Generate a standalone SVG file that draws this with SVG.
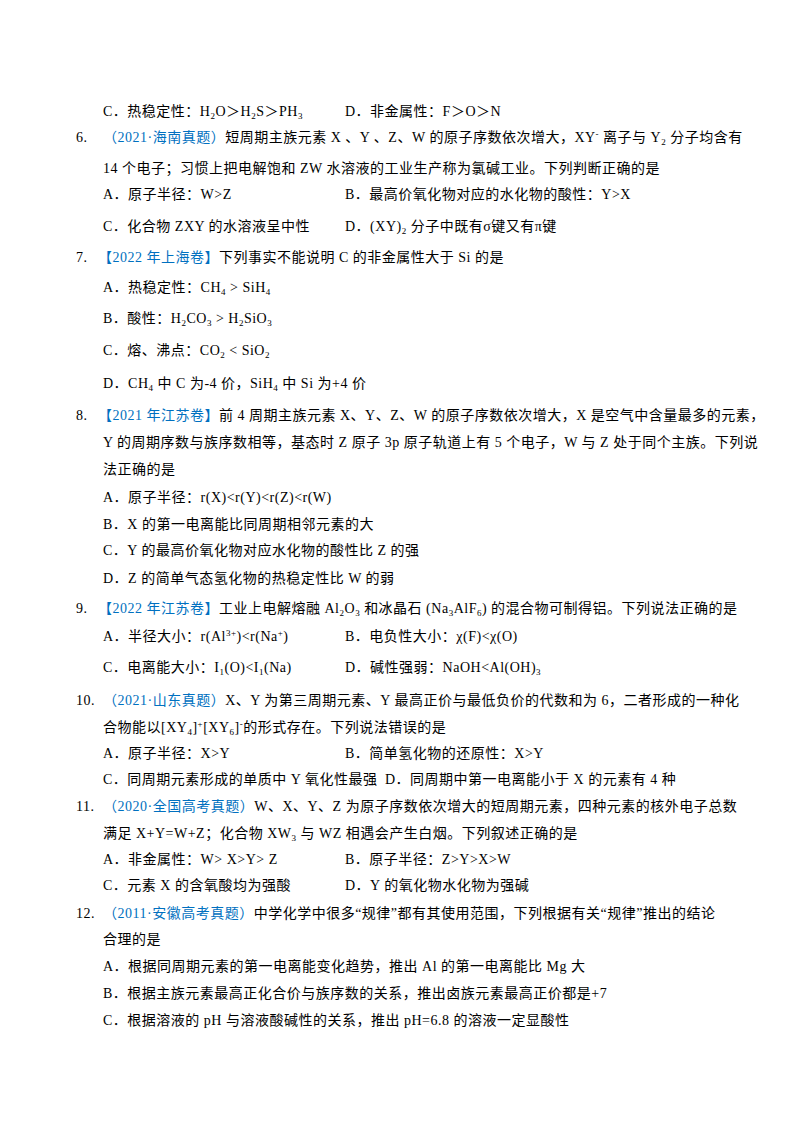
<svg xmlns="http://www.w3.org/2000/svg" width="800" height="1132" viewBox="0 0 800 1132">
<style>
text{font-family:"Liberation Serif","Noto Sans CJK SC",serif;font-size:14px;fill:#000;letter-spacing:0.5px}
.b{fill:#0070c0}
.s{font-size:9px}
</style>
<rect width="800" height="1132" fill="#fff"/>
<g id="q5">
<text x="103" y="116">C．热稳定性：H<tspan class="s" dy="3">2</tspan><tspan dy="-3">O＞H</tspan><tspan class="s" dy="3">2</tspan><tspan dy="-3">S＞PH</tspan><tspan class="s" dy="3">3</tspan></text>
<text x="345" y="116">D．非金属性：F＞O＞N</text>
</g>
<g id="q6">
<text x="76" y="142">6.</text>
<text x="103" y="142"><tspan class="b">（2021·海南真题）</tspan>短周期主族元素 X 、Y 、Z、W 的原子序数依次增大，XY<tspan class="s" dy="-5">-</tspan><tspan dy="5"> 离子与 Y</tspan><tspan class="s" dy="3">2</tspan><tspan dy="-3"> 分子均含有</tspan></text>
<text x="103" y="173">14 个电子；习惯上把电解饱和 ZW 水溶液的工业生产称为氯碱工业。下列判断正确的是</text>
<text x="103" y="199">A．原子半径：W&gt;Z</text>
<text x="345" y="199">B．最高价氧化物对应的水化物的酸性：Y&gt;X</text>
<text x="103" y="231">C．化合物 ZXY 的水溶液呈中性</text>
<text x="345" y="231">D．(XY)<tspan class="s" dy="3">2</tspan><tspan dy="-3"> 分子中既有σ键又有π键</tspan></text>
</g>
<g id="q7">
<text x="76" y="262">7.</text>
<text x="98" y="262"><tspan class="b">【2022 年上海卷】</tspan>下列事实不能说明 C 的非金属性大于 Si 的是</text>
<text x="103" y="292">A．热稳定性：CH<tspan class="s" dy="3">4</tspan><tspan dy="-3"> &gt; SiH</tspan><tspan class="s" dy="3">4</tspan></text>
<text x="103" y="323">B．酸性：H<tspan class="s" dy="3">2</tspan><tspan dy="-3">CO</tspan><tspan class="s" dy="3">3</tspan><tspan dy="-3"> &gt; H</tspan><tspan class="s" dy="3">2</tspan><tspan dy="-3">SiO</tspan><tspan class="s" dy="3">3</tspan></text>
<text x="103" y="355">C．熔、沸点：CO<tspan class="s" dy="3">2</tspan><tspan dy="-3"> &lt; SiO</tspan><tspan class="s" dy="3">2</tspan></text>
<text x="103" y="388">D．CH<tspan class="s" dy="3">4</tspan><tspan dy="-3"> 中 C 为-4 价，SiH</tspan><tspan class="s" dy="3">4</tspan><tspan dy="-3"> 中 Si 为+4 价</tspan></text>
</g>
<g id="q8">
<text x="76" y="420">8.</text>
<text x="98" y="420"><tspan class="b">【2021 年江苏卷】</tspan>前 4 周期主族元素 X、Y、Z、W 的原子序数依次增大，X 是空气中含量最多的元素，</text>
<text x="103" y="447">Y 的周期序数与族序数相等，基态时 Z 原子 3p 原子轨道上有 5 个电子，W 与 Z 处于同个主族。下列说</text>
<text x="103" y="474">法正确的是</text>
<text x="103" y="502">A．原子半径：r(X)&lt;r(Y)&lt;r(Z)&lt;r(W)</text>
<text x="103" y="529">B．X 的第一电离能比同周期相邻元素的大</text>
<text x="103" y="555">C．Y 的最高价氧化物对应水化物的酸性比 Z 的强</text>
<text x="103" y="583">D．Z 的简单气态氢化物的热稳定性比 W 的弱</text>
</g>
<g id="q9">
<text x="76" y="613">9.</text>
<text x="98" y="613"><tspan class="b">【2022 年江苏卷】</tspan>工业上电解熔融 Al<tspan class="s" dy="3">2</tspan><tspan dy="-3">O</tspan><tspan class="s" dy="3">3</tspan><tspan dy="-3"> 和冰晶石 (Na</tspan><tspan class="s" dy="3">3</tspan><tspan dy="-3">AlF</tspan><tspan class="s" dy="3">6</tspan><tspan dy="-3">) 的混合物可制得铝。下列说法正确的是</tspan></text>
<text x="103" y="641">A．半径大小：r(Al<tspan class="s" dy="-5">3+</tspan><tspan dy="5">)&lt;r(Na</tspan><tspan class="s" dy="-5">+</tspan><tspan dy="5">)</tspan></text>
<text x="345" y="641">B．电负性大小：χ(F)&lt;χ(O)</text>
<text x="103" y="672">C．电离能大小：I<tspan class="s" dy="3">1</tspan><tspan dy="-3">(O)&lt;I</tspan><tspan class="s" dy="3">1</tspan><tspan dy="-3">(Na)</tspan></text>
<text x="345" y="672">D．碱性强弱：NaOH&lt;Al(OH)<tspan class="s" dy="3">3</tspan></text>
</g>
<g id="q10">
<text x="76" y="705">10.</text>
<text x="103" y="705"><tspan class="b">（2021·山东真题）</tspan>X、Y 为第三周期元素、Y 最高正价与最低负价的代数和为 6，二者形成的一种化</text>
<text x="103" y="732">合物能以[XY<tspan class="s" dy="3">4</tspan><tspan dy="-3">]</tspan><tspan class="s" dy="-5">+</tspan><tspan dy="5">[XY</tspan><tspan class="s" dy="3">6</tspan><tspan dy="-3">]</tspan><tspan class="s" dy="-5">-</tspan><tspan dy="5">的形式存在。下列说法错误的是</tspan></text>
<text x="103" y="758">A．原子半径：X&gt;Y</text>
<text x="345" y="758">B．简单氢化物的还原性：X&gt;Y</text>
<text x="103" y="784">C．同周期元素形成的单质中 Y 氧化性最强</text>
<text x="385" y="784">D．同周期中第一电离能小于 X 的元素有 4 种</text>
</g>
<g id="q11">
<text x="76" y="811">11.</text>
<text x="103" y="811"><tspan class="b">（2020·全国高考真题）</tspan>W、X、Y、Z 为原子序数依次增大的短周期元素，四种元素的核外电子总数</text>
<text x="103" y="838">满足 X+Y=W+Z；化合物 XW<tspan class="s" dy="3">3</tspan><tspan dy="-3"> 与 WZ 相遇会产生白烟。下列叙述正确的是</tspan></text>
<text x="103" y="864">A．非金属性：W&gt; X&gt;Y&gt; Z</text>
<text x="345" y="864">B．原子半径：Z&gt;Y&gt;X&gt;W</text>
<text x="103" y="890">C．元素 X 的含氧酸均为强酸</text>
<text x="345" y="890">D．Y 的氧化物水化物为强碱</text>
</g>
<g id="q12">
<text x="76" y="918">12.</text>
<text x="103" y="918"><tspan class="b">（2011·安徽高考真题）</tspan>中学化学中很多“规律”都有其使用范围，下列根据有关“规律”推出的结论</text>
<text x="103" y="944">合理的是</text>
<text x="103" y="971">A．根据同周期元素的第一电离能变化趋势，推出 Al 的第一电离能比 Mg 大</text>
<text x="103" y="998">B．根据主族元素最高正化合价与族序数的关系，推出卤族元素最高正价都是+7</text>
<text x="103" y="1025">C．根据溶液的 pH 与溶液酸碱性的关系，推出 pH=6.8 的溶液一定显酸性</text>
</g>
<g id="connectors"/>
</svg>
